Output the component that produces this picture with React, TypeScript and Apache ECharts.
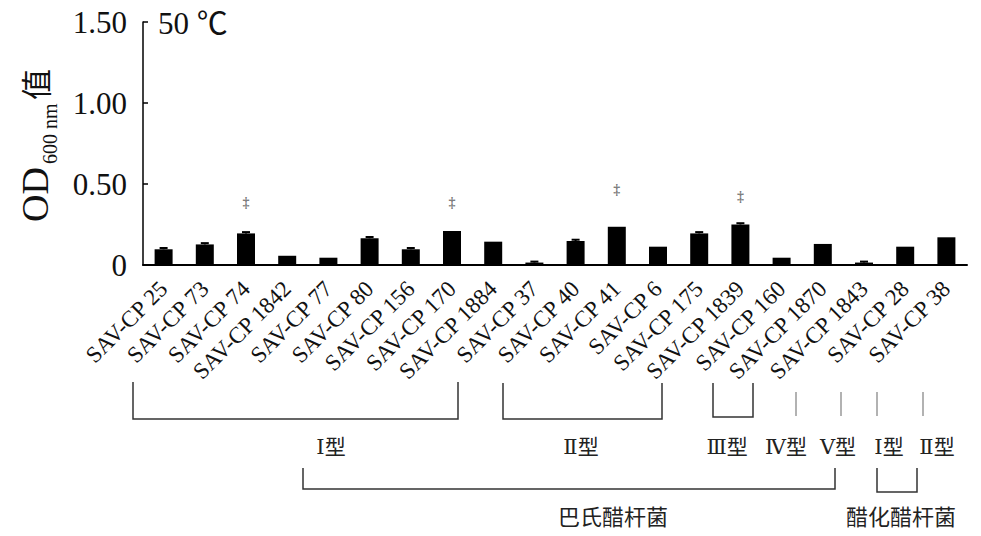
import React, { useEffect, useRef } from "react";
import * as echarts from "echarts";

const categories = [
  "SAV-CP 25", "SAV-CP 73", "SAV-CP 74", "SAV-CP 1842", "SAV-CP 77",
  "SAV-CP 80", "SAV-CP 156", "SAV-CP 170", "SAV-CP 1884", "SAV-CP 37",
  "SAV-CP 40", "SAV-CP 41", "SAV-CP 6", "SAV-CP 175", "SAV-CP 1839",
  "SAV-CP 160", "SAV-CP 1870", "SAV-CP 1843", "SAV-CP 28", "SAV-CP 38",
];
const odValues = [
  0.097, 0.127, 0.195, 0.057, 0.045, 0.165, 0.097, 0.21, 0.144, 0.015,
  0.148, 0.236, 0.113, 0.195, 0.25, 0.045, 0.13, 0.015, 0.113, 0.171,
];
const errValues = [
  0.008, 0.008, 0.008, 0, 0, 0.008, 0.008, 0, 0, 0.006,
  0.008, 0, 0, 0.008, 0.008, 0, 0, 0.006, 0, 0,
];
const sigValues: (number | null)[] = [
  null, null, 0.383, null, null, null, null, 0.383, null, null,
  null, 0.463, null, null, 0.42, null, null, null, null, null,
];
const yTicks = [0, 0.5, 1.0, 1.5];
const chartTitle = "50 ℃";
const typeLabels = ["Ⅰ型", "Ⅱ型", "Ⅲ型", "Ⅳ型", "Ⅴ型", "Ⅰ型", "Ⅱ型"];
const speciesLabels = ["巴氏醋杆菌", "醋化醋杆菌"];

const SERIF = '"Liberation Serif", "Times New Roman", serif';
const CJK = '"Noto Sans CJK SC", sans-serif';
const ROMAN_CJK = '"DejaVu Serif", "Noto Sans CJK SC", serif';

export default function App() {
  const ref = useRef<HTMLDivElement>(null);
  useEffect(() => {
    const chart = echarts.init(ref.current!, undefined, { renderer: "svg" });

    const typeLabelPos = [
      [331, 447], [581, 447], [727, 447], [786, 447], [838, 447], [889, 447], [937, 447],
    ];
    const speciesLabelPos = [[613, 515], [901, 515]];
    const bracketLines: { pts: number[][]; color: string }[] = [
      { pts: [[133, 382], [133, 419], [458, 419], [458, 382]], color: "#333" },
      { pts: [[503, 383], [503, 419], [662, 419], [662, 383]], color: "#333" },
      { pts: [[713, 383], [713, 417], [753, 417], [753, 383]], color: "#333" },
      { pts: [[796, 392], [796, 416]], color: "#999" },
      { pts: [[841, 392], [841, 416]], color: "#999" },
      { pts: [[877, 392], [877, 416]], color: "#999" },
      { pts: [[923, 392], [923, 416]], color: "#999" },
      { pts: [[303, 468], [303, 489], [835, 489], [835, 468]], color: "#333" },
      { pts: [[877, 468], [877, 492], [917, 492], [917, 468]], color: "#333" },
    ];

    const graphics: any[] = [];
    graphics.push({
      type: "text",
      x: 158,
      y: 23,
      style: {
        text: chartTitle,
        fontSize: 31,
        fontFamily: SERIF + ', "Noto Sans CJK SC"',
        fill: "#111",
        textAlign: "left",
        textVerticalAlign: "middle",
        align: "left",
        verticalAlign: "middle",
      },
    });
    // y axis name, rotated
    graphics.push({
      type: "group",
      x: 35,
      y: 222,
      rotation: Math.PI / 2,
      children: [
        {
          type: "text",
          x: 0,
          y: 0,
          style: {
            text: "OD", fontSize: 38, fontFamily: SERIF, fill: "#111",
            textAlign: "left", textVerticalAlign: "middle", align: "left", verticalAlign: "middle",
          },
        },
        {
          type: "text",
          x: 58,
          y: 15,
          style: {
            text: "600 nm", fontSize: 20, fontFamily: SERIF, fill: "#111",
            textAlign: "left", textVerticalAlign: "middle", align: "left", verticalAlign: "middle",
          },
        },
        {
          type: "text",
          x: 122,
          y: -1,
          style: {
            text: "值", fontSize: 31, fontFamily: CJK, fill: "#111",
            textAlign: "left", textVerticalAlign: "middle", align: "left", verticalAlign: "middle",
          },
        },
      ],
    });
    bracketLines.forEach((b) => {
      graphics.push({
        type: "polyline",
        shape: { points: b.pts },
        style: { stroke: b.color, lineWidth: 1.5, fill: null },
      });
    });
    typeLabels.forEach((t, i) => {
      graphics.push({
        type: "text",
        x: typeLabelPos[i][0],
        y: typeLabelPos[i][1],
        style: {
          text: t, fontSize: 21, fontFamily: ROMAN_CJK, fill: "#222",
          textAlign: "center", textVerticalAlign: "middle", align: "center", verticalAlign: "middle",
        },
      });
    });
    speciesLabels.forEach((t, i) => {
      graphics.push({
        type: "text",
        x: speciesLabelPos[i][0],
        y: speciesLabelPos[i][1],
        style: {
          text: t, fontSize: 22, fontFamily: CJK, fill: "#222",
          textAlign: "center", textVerticalAlign: "middle", align: "center", verticalAlign: "middle",
        },
      });
    });

    chart.setOption({
      animation: false,
      backgroundColor: "#fff",
      grid: { left: 143, right: 14, top: 22, bottom: 271, containLabel: false },
      xAxis: {
        type: "category",
        data: categories,
        axisLine: { lineStyle: { color: "#000", width: 2 } },
        axisTick: { show: false },
        axisLabel: {
          interval: 0,
          rotate: 45,
          margin: 20,
          fontSize: 23,
          fontFamily: SERIF,
          color: "#111",
        },
      },
      yAxis: {
        type: "value",
        min: yTicks[0],
        max: yTicks[yTicks.length - 1],
        interval: yTicks[1] - yTicks[0],
        splitLine: { show: false },
        axisLine: { show: true, lineStyle: { color: "#000", width: 1.5 } },
        axisTick: { show: true, inside: true, length: 5, lineStyle: { color: "#000", width: 1.5 } },
        axisLabel: {
          margin: 16,
          fontSize: 31,
          fontFamily: SERIF,
          color: "#111",
          formatter: (v: number) => (v === 0 ? "0" : v.toFixed(2)),
        },
      },
      series: [
        {
          type: "bar",
          data: odValues,
          barWidth: 18,
          itemStyle: { color: "#000" },
        },
        {
          type: "custom",
          data: categories.map((c, i) => [i, odValues[i], errValues[i]]),
          encode: { x: 0, y: 1 },
          z: 3,
          renderItem: (params: any, api: any) => {
            const i = api.value(0);
            const v = api.value(1);
            const e = api.value(2);
            if (!e) return null;
            const p0 = api.coord([i, v]);
            const p1 = api.coord([i, v + e]);
            return {
              type: "group",
              children: [
                { type: "line", shape: { x1: p0[0], y1: p0[1], x2: p1[0], y2: p1[1] }, style: { stroke: "#000", lineWidth: 2 } },
                { type: "line", shape: { x1: p1[0] - 4, y1: p1[1], x2: p1[0] + 4, y2: p1[1] }, style: { stroke: "#000", lineWidth: 2 } },
              ],
            };
          },
        },
        {
          type: "scatter",
          data: sigValues.map((v) => (v == null ? "-" : v)),
          symbol: "circle",
          symbolSize: 1,
          itemStyle: { color: "rgba(0,0,0,0)" },
          label: {
            show: true,
            position: "inside",
            formatter: "‡",
            fontSize: 14,
            fontWeight: "bold",
            fontFamily: SERIF,
            color: "#555",
            textBorderWidth: 0,
          },
        },
      ],
      graphic: graphics,
    });
    return () => chart.dispose();
  }, []);
  return (
    <div
      ref={ref}
      style={{ position: "absolute", left: 0, top: 0, width: 981, height: 536, background: "#fff" }}
    />
  );
}
